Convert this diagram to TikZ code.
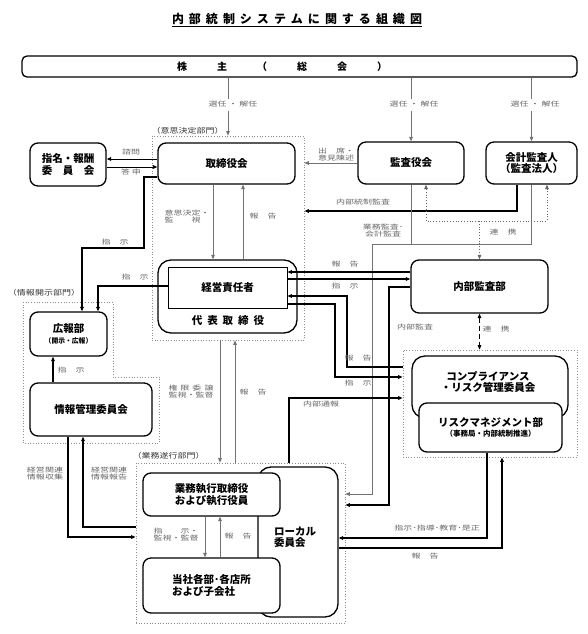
\documentclass[tikz,border=0pt]{standalone}
\usepackage{fontspec}
\usepackage{graphicx}
\setmainfont{Noto Sans CJK JP}
\usetikzlibrary{arrows.meta}
\newcommand\lab[1]{\scalebox{1}[0.72]{\begin{tabular}{@{}c@{}}#1\end{tabular}}}
\newcommand\labl[1]{\scalebox{1}[0.72]{\begin{tabular}{@{}l@{}}#1\end{tabular}}}
\newcommand\tsp{\kern5pt}
\begin{document}
\begin{tikzpicture}[x=1pt,y=-1pt,
  box/.style={draw, line width=1.3pt, rounded corners=8pt, fill=white, inner sep=0pt, align=center, font=\bfseries\fontsize{10.5}{12.5}\selectfont},
  grp/.style={draw=black!45, dotted, line width=0.7pt, inner sep=0pt},
  thk/.style={line width=1.3pt, draw=black},
  thn/.style={line width=0.7pt, draw=black!55},
  dotln/.style={line width=0.8pt, draw=black!60, dotted},
  arr/.style={-{Triangle[length=4.5pt,width=3.6pt]}},
  arrs/.style={{Triangle[length=4.5pt,width=3.6pt]}-{Triangle[length=4.5pt,width=3.6pt]}},
  lbl/.style={inner sep=0pt, text=black!60, font=\fontsize{9}{9}\selectfont},
  glbl/.style={inner sep=0pt, text=black!80, font=\fontsize{9}{9}\selectfont},
  txt/.style={inner sep=0pt, font=\bfseries\fontsize{10.5}{12.5}\selectfont, align=center},
]
\useasboundingbox (0,0) rectangle (588,634);

% title
\node[inner sep=0pt, font=\bfseries\fontsize{12}{14}\selectfont] (title) at (297,19)
  {内\tsp 部\tsp 統\tsp 制\tsp シ\tsp ス\tsp テ\tsp ム\tsp に\tsp 関\tsp す\tsp る\tsp 組\tsp 織\tsp 図};
\draw[line width=0.8pt] ([yshift=-1pt]title.south west) -- ([yshift=-1pt]title.south east);

% groups
\node[grp, minimum width=152pt, minimum height=204pt] (gI) at (228,238) {};
\node[grp, minimum width=209pt, minimum height=160pt] (gII) at (240.5,543) {};
\node[grp, minimum width=174pt, minimum height=107pt] (gC) at (490,403.5) {};
\draw[grp] (23,302) -- (113,302) -- (113,377) -- (159,377) -- (159,443) -- (23,443) -- cycle;
\node[glbl] (gIl) at (187.5,131) {\scalebox{1}[0.8]{（意思決定部門）}};
\node[glbl] (gJl) at (44,293) {\scalebox{1}[0.8]{（情報開示部門）}};
\node[glbl] (gIIl) at (168.5,456) {\scalebox{1}[0.8]{（業務遂行部門）}};

% boxes
\node[box, rounded corners=5pt, minimum width=555pt, minimum height=21pt] (kabu) at (299.5,66.5) {};
\node[txt, font=\bfseries\fontsize{10}{12}\selectfont] (kabut) at (282,67) {株\kern30pt 主\kern30pt （\kern30pt 総\kern30pt 会\kern30pt ）};
\node[box, minimum width=76pt, minimum height=43pt] (shimei) at (68,164.5) {指名・報酬\\委　員　会};
\node[box, minimum width=137pt, minimum height=41pt] (tori) at (226.5,163.5) {取締役会};
\node[box, minimum width=106pt, minimum height=42pt] (kansa) at (411,163) {監査役会};
\node[box, minimum width=91pt, minimum height=42pt, font=\bfseries\fontsize{10.5}{11.5}\selectfont] (kaikei) at (531.5,163) {会計監査人\\（監査法人）};
\node[box, rounded corners=13pt, minimum width=139pt, minimum height=73pt] (daihyo) at (227.5,296.5) {};
\node[draw, line width=0.8pt, fill=white, inner sep=0pt, minimum width=119pt, minimum height=41pt, font=\bfseries\fontsize{10.5}{12.5}\selectfont] (keiei) at (227.5,287.5) {経営責任者};
\node[txt] (daihyot) at (228,321) {代\kern5pt 表\kern5pt 取\kern5pt 締\kern5pt 役};
\node[box, minimum width=137pt, minimum height=53pt] (naibu) at (479.5,286.5) {内部監査部};
\node[box, minimum width=77pt, minimum height=44pt, font=\bfseries\fontsize{10.5}{11}\selectfont] (koho) at (68.5,334) {広報部\\{\fontsize{6.8}{8}\selectfont （開示・広報）}};
\node[box, minimum width=122pt, minimum height=53pt] (joho) at (91,409.5) {情報管理委員会};
\node[box, rounded corners=13pt, minimum width=156pt, minimum height=62pt] (comp) at (490,387) {};
\node[txt, font=\bfseries\fontsize{10.5}{11}\selectfont] (compt) at (488,382) {コンプライアンス\\・リスク管理委員会};
\node[box, minimum width=143pt, minimum height=49pt, font=\bfseries\fontsize{10.5}{10.5}\selectfont] (risk) at (490.5,427.5) {リスクマネジメント部\\{\fontsize{7.5}{8}\selectfont （事務局・内部統制推進）}};
\node[box, rounded corners=13pt, minimum width=80pt, minimum height=150pt] (local) at (298,542) {};
\node[txt, anchor=west, align=left, font=\bfseries\fontsize{10.5}{11.5}\selectfont] (localt) at (274,537) {ローカル\\委員会};
\node[box, minimum width=137pt, minimum height=43pt] (gyomu) at (211.5,494.5) {業務執行取締役\\および執行役員};
\node[box, align=left, minimum width=137pt, minimum height=55pt] (tosha) at (211.5,585.5) {当社各部･各店所\\および子会社};

% connectors
\draw[thn, arr] (kabu.south -| gI.north) -- (gI.north);
\draw[thn, arr] (kabu.south -| kansa.north) -- (kansa.north);
\draw[thn, arr] (kabu.south -| kaikei.north) -- (kaikei.north);
\draw[thk, line width=1pt, arr] (tori.west |- 0,159) -- (shimei.east |- 0,159);
\draw[thk, line width=1pt, arr] (shimei.east |- 0,167) -- (tori.west |- 0,167);
\draw[thk, arr] (tori.west |- 0,177) -| (144,248) -| (82,0 |- koho.north);
\draw[thk, arr] (keiei.west |- 0,286) -| (98,0 |- koho.north);
\draw[thn, arr] (tori.south -| 213,0) -- (daihyo.north -| 213,0);
\draw[thn, arr] (daihyo.north -| 243,0) -- (tori.south -| 243,0);
\draw[thn, arr] (kansa.west) -- (gI.east |- kansa.west);
\draw[thk, arr] (kaikei.south -| 517,0) |- (gI.east |- 0,211);
\draw[thn] (kansa.south) -- (kansa.south |- 0,244);
\draw[thn, arr] (kaikei.south) |- (372,244) |- (gII.east |- 0,494);
\draw[dotln, arrs] (kansa.south -| 426,0) |- (547,221) -- (kaikei.south -| 547,0);
\draw[dotln, arr] (479.5,221) -- (naibu.north);
\draw[thk, arr] (naibu.west |- 0,272) -- (keiei.east |- 0,272);
\draw[thk, arr] (keiei.east |- 0,279) -- (naibu.west |- 0,279);
\draw[thk, arr] (gC.west |- 0,367) -| (347,296) -- (keiei.east |- 0,296);
\draw[thk, arr] (keiei.east |- 0,304) -| (335,377) -- (gC.west |- 0,377);
\draw[thk, arr] (gII.north -| 289,0) |- (gC.west |- 0,398);
\draw[thk, arr] (naibu.west |- 0,287) -| (389,505) -- (gII.east |- 0,505);
\draw[thk, dash pattern=on 5pt off 3pt, arrs] (naibu.south) -- (gC.north -| naibu.south);
\draw[thn, arr] (gI.south -| 220,0) -- (gII.north -| 220,0);
\draw[thn, arr] (gII.north -| 235,0) -- (gI.south -| 235,0);
\draw[thk, arr] (joho.south -| 68,0) |- (gII.west |- 0,537);
\draw[thk, arr] (gII.west |- 0,527) -| (83,0 |- joho.south);
\draw[thk, arr] (joho.north -| 53,0) -- (koho.south -| 53,0);
\draw[thn, arr] (gyomu.south -| 205,0) -- (tosha.north -| 205,0);
\draw[thn, arr] (tosha.north -| 220,0) -- (gyomu.south -| 220,0);
\draw[thk, arr] (risk.south -| 487,0) |- (local.east |- 0,538);
\draw[thk, arr] (local.east |- 0,548) -| (502,0 |- gC.south);

% labels
\node[lbl, fill=white, inner sep=2pt] (l1) at (233,105) {\lab{選任\kern2pt・\kern2pt 解任}};
\node[lbl, fill=white, inner sep=2pt] (l2) at (414,105) {\lab{選任\kern2pt・\kern2pt 解任}};
\node[lbl, fill=white, inner sep=2pt] (l3) at (535,105) {\lab{選任\kern2pt・\kern2pt 解任}};
\node[lbl] (l4) at (131,153) {\lab{諮問}};
\node[lbl] (l5) at (131,173) {\lab{答\kern2pt 申}};
\node[lbl] (l6) at (115,243) {\lab{指　示}};
\node[lbl] (l7) at (135,278) {\lab{指　示}};
\node[lbl] (l8) at (187,217) {\labl{意思決定・\\監　　視}};
\node[lbl] (l9) at (263,217) {\lab{報　告}};
\node[lbl] (l10) at (336,155) {\labl{出　席・\\意見陳述}};
\node[lbl] (l11) at (363,203) {\lab{内部統制監査}};
\node[lbl] (l12) at (383,231) {\lab{業務監査･\\会計監査}};
\node[lbl] (l13) at (503,233) {\lab{連　携}};
\node[lbl] (l14) at (345,265) {\lab{報　告}};
\node[lbl] (l15) at (345,287) {\lab{指　示}};
\node[lbl] (l16) at (358,359) {\lab{報　告}};
\node[lbl] (l17) at (358,384) {\lab{指　示}};
\node[lbl] (l18) at (321,405) {\lab{内部通報}};
\node[lbl] (l19) at (415,328) {\lab{内部監査}};
\node[lbl] (l20) at (496,330) {\lab{連　携}};
\node[lbl] (l21) at (71,371) {\lab{指　示}};
\node[lbl] (l22) at (191,392) {\lab{権\kern3pt 限\kern3pt 委\kern3pt 譲\\監視・監督}};
\node[lbl] (l23) at (253,393) {\lab{報　告}};
\node[lbl] (l24) at (45,474) {\lab{経営関連\\情報収集}};
\node[lbl] (l25) at (109,474) {\lab{経営関連\\情報報告}};
\node[lbl] (l26) at (176,535) {\labl{指　　示・\\監視・監督}};
\node[lbl] (l27) at (238,537) {\lab{報　告}};
\node[lbl] (l28) at (437,529) {\lab{指示･指導･教育･是正}};
\node[lbl] (l29) at (425,557) {\lab{報　告}};
\end{tikzpicture}
\end{document}
